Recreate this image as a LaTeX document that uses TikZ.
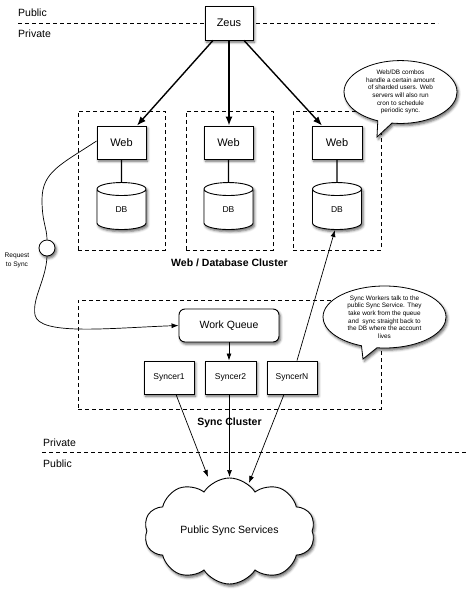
\documentclass[tikz,border=0pt]{standalone}
\usepackage{fontspec}
\setmainfont{Liberation Sans}
\usetikzlibrary{shapes.geometric,shapes.symbols,shapes.callouts,shadows.blur,arrows.meta}
\begin{document}
\begin{tikzpicture}[x=1pt,y=-1pt,
  shad/.style={blur shadow={shadow xshift=1.5pt,shadow yshift=-2.2pt,shadow blur radius=2.5pt,shadow opacity=60}},
  box/.style={draw,line width=0.9pt,fill=white,shad,inner sep=0pt,align=center},
  bigtxt/.style={font=\fontsize{11}{13}\selectfont},
  midtxt/.style={font=\fontsize{8.5}{10}\selectfont},
  dbcyl/.style={cylinder,shape border rotate=90,aspect=1.1,draw,line width=0.9pt,fill=white,shad,
    minimum width=49pt,minimum height=47pt,inner sep=0pt,font=\fontsize{8.5}{10}\selectfont},
  cluster/.style={draw,dash pattern=on 4pt off 3pt,line width=0.8pt,inner sep=0pt},
  dashline/.style={draw,dash pattern=on 4pt off 3pt,line width=0.8pt},
  sidelbl/.style={anchor=west,inner sep=0pt,font=\fontsize{10.5}{12}\selectfont},
  clbl/.style={inner sep=0pt,font=\bfseries\fontsize{10.5}{12}\selectfont},
  bubble/.style={ellipse callout,draw,line width=0.8pt,fill=white,shad,inner sep=0pt,align=center,
    font=\fontsize{6.4}{7.7}\selectfont},
  bigarrow/.style={line width=1.4pt,-{Latex[length=9pt,width=7pt]}},
  arr/.style={line width=0.7pt,-{Latex[length=7pt,width=5pt]}},
  plain/.style={line width=0.7pt}
]
\useasboundingbox (0,0) rectangle (466,599);

% public / private separators
\coordinate (tl) at (18,23);
\coordinate (tr) at (438,23);
\coordinate (bl) at (42,452);
\coordinate (br) at (466,452);
\draw[dashline] (tl) -- (tr);
\draw[dashline] (bl) -- (br);
\node[sidelbl] (pub1) at (18,13) {Public};
\node[sidelbl] (priv1) at (18,33.5) {Private};
\node[sidelbl] (priv2) at (43,443) {Private};
\node[sidelbl] (pub2) at (43,463.5) {Public};

% clusters
\node[cluster,minimum width=87pt,minimum height=139pt] (c1) at (121.5,180.5) {};
\node[cluster,minimum width=87pt,minimum height=139pt] (c2) at (229.5,180.5) {};
\node[cluster,minimum width=88pt,minimum height=139pt] (c3) at (337,180.5) {};
\node[clbl] (c1lbl) at (229.5,263) {Web / Database Cluster};
\node[cluster,minimum width=303pt,minimum height=109pt] (sc) at (229.5,354.5) {};
\node[clbl] (sclbl) at (229.5,423) {Sync Cluster};

% nodes
\node[box,bigtxt,minimum width=48pt,minimum height=34pt] (zeus) at (229,23) {Zeus};
\node[box,bigtxt,minimum width=49pt,minimum height=33pt] (web1) at (121.5,142.5) {Web};
\node[box,bigtxt,minimum width=49pt,minimum height=33pt] (web2) at (228.5,142.5) {Web};
\node[box,bigtxt,minimum width=50pt,minimum height=33pt] (web3) at (337,142.5) {Web};
\node[dbcyl] (db1) at (121.5,209.5) {DB};
\node[dbcyl] (db2) at (228.5,209.5) {DB};
\node[dbcyl] (db3) at (337,209.5) {DB};

\node[box,rounded corners=6pt,font=\fontsize{10.5}{12}\selectfont,minimum width=100pt,minimum height=33pt] (wq) at (229,325.5) {Work Queue};
\node[box,midtxt,minimum width=50pt,minimum height=33pt] (s1) at (169,377.5) {Syncer1};
\node[box,midtxt,minimum width=51pt,minimum height=33pt] (s2) at (230.5,377.5) {Syncer2};
\node[box,midtxt,minimum width=50pt,minimum height=33pt] (sn) at (292,377.5) {SyncerN};

\node[cloud,cloud puffs=10,cloud puff arc=115,cloud ignores aspect,draw,line width=0.9pt,fill=white,shad,
  minimum width=171pt,minimum height=106pt,inner sep=0pt,font=\fontsize{10.5}{12}\selectfont] (cloud) at (229.5,531) {Public Sync Services};

\node[circle,draw,line width=0.8pt,fill=white,shad,minimum size=16pt,inner sep=0pt] (req) at (47,248) {};
\node[align=center,inner sep=0pt,font=\fontsize{6.6}{9}\selectfont] (reqlbl) at (17,260.5) {Request\\to Sync};

\node[bubble,minimum width=113pt,minimum height=62pt,callout absolute pointer={(377,137)},callout pointer width=14pt] (b1) at (400.5,92)
  {Web/DB combos\\handle a certain amount\\of sharded users. Web\\servers will also run\\cron to schedule\\periodic sync.};
\node[bubble,minimum width=123pt,minimum height=62pt,callout absolute pointer={(363,359)},callout pointer width=16pt] (b2) at (384.5,317)
  {Sync Workers talk to the\\public Sync Service. They\\take work from the queue\\and\ \ sync straight back to\\the DB where the account\\lives};

% connectors
\draw[bigarrow] ([xshift=-16pt]zeus.south) -- ([xshift=15.5pt]web1.north);
\draw[bigarrow] (zeus.south) -- (zeus.south |- web2.north);
\draw[bigarrow] ([xshift=15pt]zeus.south) -- ([xshift=-15pt]web3.north);
\draw[line width=1.4pt] (web1.south) -- (db1.north);
\draw[line width=1.4pt] (web2.south) -- (db2.north);
\draw[line width=1.4pt] (web3.south) -- (db3.north);

\draw[plain] ([yshift=1.5pt]web1.west) .. controls (60,165) and (42,172) .. (42,200)
  .. controls (42,222) and (47,228) .. (req.north);
\draw[arr] (req.south) .. controls (46,280) and (32,298) .. (35,315)
  .. controls (39,336) and (110,328) .. (wq.west);

\draw[arr] (wq.south) -- (wq.south |- s2.north);

\coordinate (t1) at (208,477);
\coordinate (t2) at (229.5,477);
\coordinate (t3) at (249,483);
\draw[arr] ([xshift=7pt]s1.south) -- (t1);
\draw[arr] (s2.south -| t2) -- (t2);
\draw[arr] ([xshift=-8pt]sn.south) -- (t3);
\draw[arr] ([xshift=5pt]sn.north) -- ([xshift=-2pt]db3.south);

\end{tikzpicture}
\end{document}
